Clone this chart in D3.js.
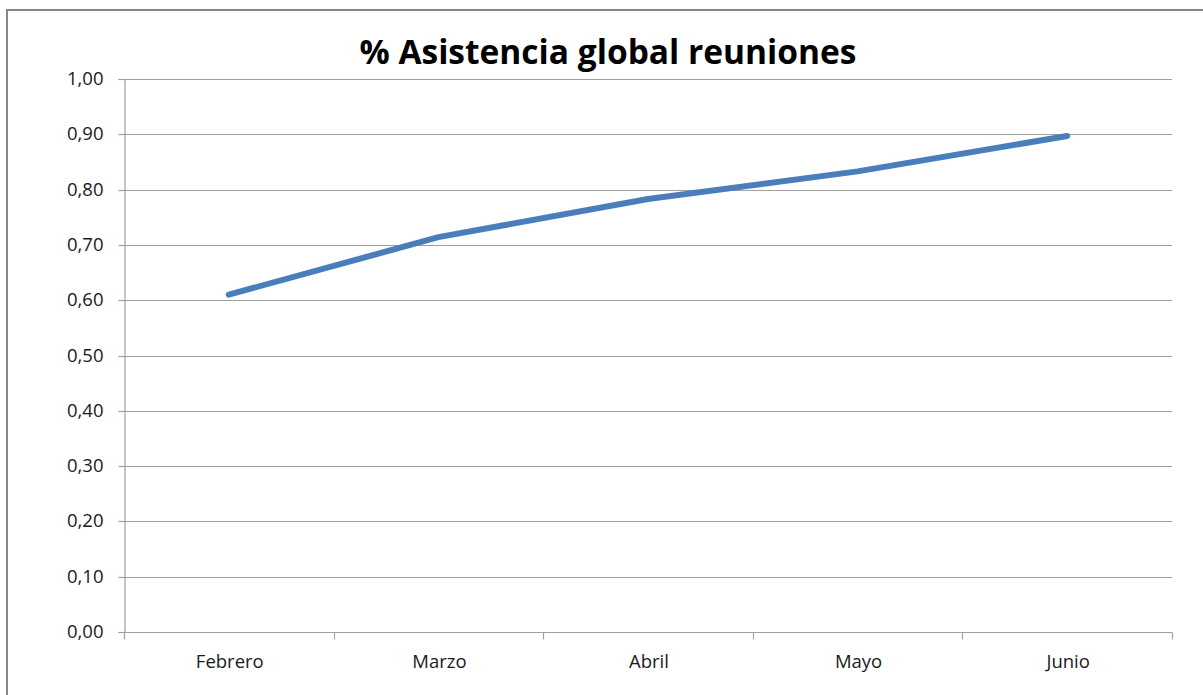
<!DOCTYPE html>
<html>
<head>
<meta charset="utf-8">
<script src="https://cdn.jsdelivr.net/npm/d3@7"></script>
<style>
  html, body { margin: 0; padding: 0; background: #ffffff; }
  svg { display: block; }
  text { font-family: "Open Sans", "Liberation Sans", sans-serif; }
</style>
</head>
<body>
<svg id="chart" width="1203" height="695"></svg>
<script>
// Monthly share of attendance across all meetings
const months = ["Febrero", "Marzo", "Abril", "Mayo", "Junio"];
const attendance = [0.61, 0.714, 0.783, 0.833, 0.897];
const yTicks = [0, 0.1, 0.2, 0.3, 0.4, 0.5, 0.6, 0.7, 0.8, 0.9, 1.0];
const chartTitle = "% Asistencia global reuniones";

const svg = d3.select("#chart");
const W = 1203, H = 695;
const plot = { left: 124, right: 1172, top: 79, bottom: 632 };

// Outer chart frame
svg.append("rect")
  .attr("x", 7).attr("y", 10)
  .attr("width", W + 20).attr("height", H + 20)
  .attr("fill", "#ffffff")
  .attr("stroke", "#878787")
  .attr("stroke-width", 2);

const x = d3.scaleBand().domain(months).range([plot.left, plot.right]).padding(0);
const y = d3.scaleLinear().domain([0, 1]).range([plot.bottom, plot.top]);

const fmt = v => d3.format(".2f")(v).replace(".", ",");

// Horizontal gridlines
svg.append("g")
  .selectAll("line")
  .data(yTicks.filter(v => v > 0))
  .join("line")
  .attr("x1", plot.left).attr("x2", plot.right)
  .attr("y1", d => Math.round(y(d)) + 0.5)
  .attr("y2", d => Math.round(y(d)) + 0.5)
  .attr("stroke", "#a0a0a0")
  .attr("stroke-width", 1.2);

// Y axis
const yAxis = d3.axisLeft(y)
  .tickValues(yTicks)
  .tickFormat(fmt)
  .tickSize(6)
  .tickPadding(15);
const gy = svg.append("g")
  .attr("transform", `translate(${plot.left + 0.5},0)`)
  .call(yAxis);
gy.select(".domain").attr("stroke", "#a0a0a0").attr("stroke-width", 1.2);
gy.selectAll(".tick line").attr("stroke", "#a0a0a0").attr("stroke-width", 1.2);
gy.selectAll(".tick").attr("transform", d => `translate(0,${Math.round(y(d)) + 0.5})`);
gy.selectAll(".tick text")
  .attr("font-size", 18.5)
  .attr("font-family", "'Open Sans', sans-serif")
  .attr("fill", "#1a1a1a");

// X axis: ticks sit on the category boundaries
const gx = svg.append("g")
  .attr("transform", `translate(0,${plot.bottom + 0.5})`);
gx.append("line")
  .attr("x1", plot.left).attr("x2", plot.right)
  .attr("stroke", "#a0a0a0").attr("stroke-width", 1.2);
const bounds = months.map(m => x(m)).concat([x(months[months.length - 1]) + x.bandwidth()]);
gx.selectAll("line.tk")
  .data(bounds)
  .join("line")
  .attr("class", "tk")
  .attr("x1", d => Math.round(d) + 0.5).attr("x2", d => Math.round(d) + 0.5)
  .attr("y1", 0).attr("y2", 7)
  .attr("stroke", "#a0a0a0").attr("stroke-width", 1.2);
gx.selectAll("text")
  .data(months)
  .join("text")
  .attr("x", d => x(d) + x.bandwidth() / 2 + 1)
  .attr("y", 35)
  .attr("text-anchor", "middle")
  .attr("font-size", 18.5)
  .attr("fill", "#1a1a1a")
  .text(d => d);

// Attendance line
const line = d3.line()
  .x((d, i) => x(months[i]) + x.bandwidth() / 2)
  .y(d => y(d));
svg.append("path")
  .datum(attendance)
  .attr("d", line)
  .attr("fill", "none")
  .attr("stroke", "#4a7ebb")
  .attr("stroke-width", 6)
  .attr("stroke-linecap", "round")
  .attr("stroke-linejoin", "round");

// Title
svg.append("text")
  .attr("x", 608)
  .attr("y", 64)
  .attr("text-anchor", "middle")
  .attr("font-size", 33.5)
  .attr("font-weight", "bold")
  .attr("fill", "#000000")
  .text(chartTitle);
</script>
</body>
</html>
